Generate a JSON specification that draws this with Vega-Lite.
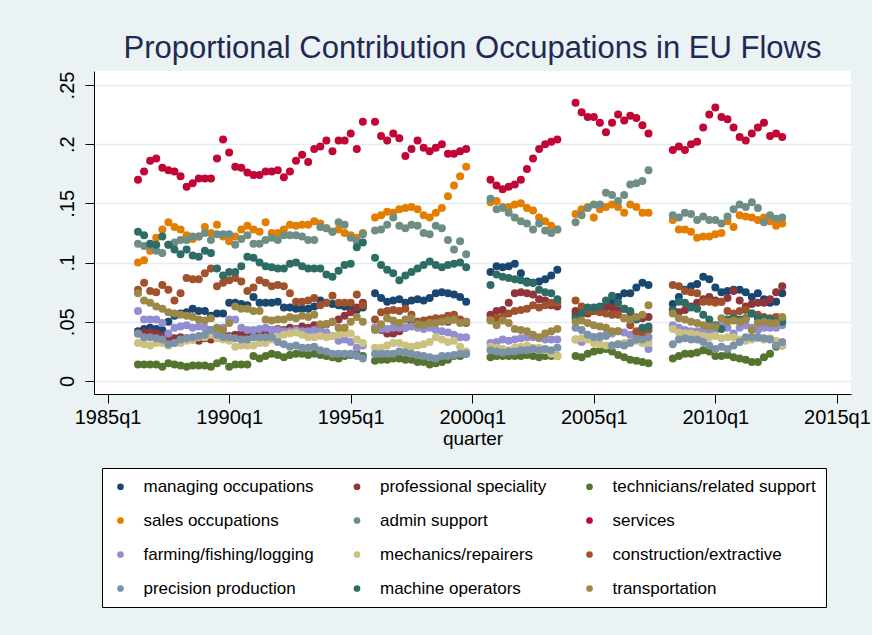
{
"$schema": "https://vega.github.io/schema/vega-lite/v6.json",
"width": 757, "height": 323,
"autosize": {"type": "none"},
"padding": {"left": 94, "top": 71, "right": 21, "bottom": 241},
"background": "#eaf2f3",
"title": {"text": "Proportional Contribution Occupations in EU Flows", "fontSize": 31, "font": "Liberation Sans", "fontWeight": "normal", "color": "#1e2a55", "anchor": "middle", "baseline": "alphabetic", "offset": 11, "dy": 29},
"config": {"view": {"fill": "white", "stroke": null}},
"data": {"values": [
{"q":1986.25,"s01":0.042,"s02":0.040,"s03":0.014,"s04":0.100,"s05":0.116,"s06":0.170,"s07":0.059,"s08":0.032,"s09":0.077,"s10":0.040,"s11":0.126,"s12":0.074},
{"q":1986.5,"s01":0.044,"s02":0.041,"s03":0.014,"s04":0.102,"s05":0.114,"s06":0.177,"s07":0.052,"s08":0.031,"s09":0.083,"s10":0.037,"s11":0.123,"s12":0.068},
{"q":1986.75,"s01":0.045,"s02":0.041,"s03":0.014,"s04":0.110,"s05":0.114,"s06":0.186,"s07":0.052,"s08":0.030,"s09":0.076,"s10":0.037,"s11":0.116,"s12":0.066},
{"q":1987,"s01":0.044,"s02":0.040,"s03":0.014,"s04":0.121,"s05":0.110,"s06":0.188,"s07":0.052,"s08":0.032,"s09":0.075,"s10":0.036,"s11":0.115,"s12":0.063},
{"q":1987.25,"s01":0.043,"s02":0.038,"s03":0.012,"s04":0.128,"s05":0.108,"s06":0.180,"s07":0.049,"s08":0.032,"s09":0.081,"s10":0.035,"s11":0.122,"s12":0.061},
{"q":1987.5,"s01":0.050,"s02":0.036,"s03":0.015,"s04":0.134,"s05":0.115,"s06":0.178,"s07":0.040,"s08":0.030,"s09":0.077,"s10":0.031,"s11":0.115,"s12":0.058},
{"q":1987.75,"s01":0.055,"s02":0.036,"s03":0.014,"s04":0.130,"s05":0.117,"s06":0.177,"s07":0.045,"s08":0.032,"s09":0.068,"s10":0.032,"s11":0.111,"s12":0.057},
{"q":1988,"s01":0.057,"s02":0.037,"s03":0.013,"s04":0.128,"s05":0.119,"s06":0.173,"s07":0.046,"s08":0.032,"s09":0.074,"s10":0.035,"s11":0.107,"s12":0.056},
{"q":1988.25,"s01":0.058,"s02":0.036,"s03":0.012,"s04":0.123,"s05":0.119,"s06":0.164,"s07":0.047,"s08":0.034,"s09":0.087,"s10":0.036,"s11":0.111,"s12":0.055},
{"q":1988.5,"s01":0.061,"s02":0.035,"s03":0.013,"s04":0.120,"s05":0.122,"s06":0.167,"s07":0.045,"s08":0.035,"s09":0.086,"s10":0.037,"s11":0.106,"s12":0.054},
{"q":1988.75,"s01":0.059,"s02":0.034,"s03":0.013,"s04":0.122,"s05":0.122,"s06":0.171,"s07":0.046,"s08":0.037,"s09":0.086,"s10":0.038,"s11":0.105,"s12":0.052},
{"q":1989,"s01":0.059,"s02":0.036,"s03":0.013,"s04":0.130,"s05":0.125,"s06":0.171,"s07":0.045,"s08":0.037,"s09":0.091,"s10":0.039,"s11":0.110,"s12":0.051},
{"q":1989.25,"s01":0.055,"s02":0.035,"s03":0.012,"s04":0.125,"s05":0.119,"s06":0.171,"s07":0.043,"s08":0.039,"s09":0.095,"s10":0.043,"s11":0.108,"s12":0.053},
{"q":1989.5,"s01":0.057,"s02":0.037,"s03":0.015,"s04":0.132,"s05":0.124,"s06":0.188,"s07":0.043,"s08":0.036,"s09":0.080,"s10":0.039,"s11":0.095,"s12":0.045},
{"q":1989.75,"s01":0.057,"s02":0.038,"s03":0.017,"s04":0.122,"s05":0.124,"s06":0.204,"s07":0.045,"s08":0.035,"s09":0.083,"s10":0.037,"s11":0.089,"s12":0.043},
{"q":1990,"s01":0.066,"s02":0.038,"s03":0.012,"s04":0.118,"s05":0.124,"s06":0.193,"s07":0.052,"s08":0.034,"s09":0.085,"s10":0.037,"s11":0.092,"s12":0.049},
{"q":1990.25,"s01":0.066,"s02":0.039,"s03":0.014,"s04":0.122,"s05":0.115,"s06":0.181,"s07":0.052,"s08":0.029,"s09":0.087,"s10":0.036,"s11":0.092,"s12":0.063},
{"q":1990.5,"s01":0.065,"s02":0.040,"s03":0.014,"s04":0.128,"s05":0.120,"s06":0.180,"s07":0.045,"s08":0.030,"s09":0.084,"s10":0.035,"s11":0.097,"s12":0.061},
{"q":1990.75,"s01":0.064,"s02":0.038,"s03":0.014,"s04":0.131,"s05":0.123,"s06":0.176,"s07":0.043,"s08":0.030,"s09":0.076,"s10":0.035,"s11":0.105,"s12":0.061},
{"q":1991,"s01":0.071,"s02":0.040,"s03":0.021,"s04":0.128,"s05":0.116,"s06":0.174,"s07":0.043,"s08":0.030,"s09":0.079,"s10":0.037,"s11":0.104,"s12":0.059},
{"q":1991.25,"s01":0.066,"s02":0.042,"s03":0.019,"s04":0.126,"s05":0.116,"s06":0.174,"s07":0.044,"s08":0.032,"s09":0.085,"s10":0.037,"s11":0.100,"s12":0.059},
{"q":1991.5,"s01":0.066,"s02":0.041,"s03":0.021,"s04":0.134,"s05":0.119,"s06":0.177,"s07":0.045,"s08":0.032,"s09":0.083,"s10":0.037,"s11":0.097,"s12":0.052},
{"q":1991.75,"s01":0.066,"s02":0.043,"s03":0.023,"s04":0.125,"s05":0.121,"s06":0.177,"s07":0.043,"s08":0.035,"s09":0.080,"s10":0.037,"s11":0.096,"s12":0.051},
{"q":1992,"s01":0.067,"s02":0.044,"s03":0.022,"s04":0.125,"s05":0.119,"s06":0.178,"s07":0.043,"s08":0.037,"s09":0.081,"s10":0.033,"s11":0.095,"s12":0.052},
{"q":1992.25,"s01":0.062,"s02":0.043,"s03":0.020,"s04":0.128,"s05":0.123,"s06":0.172,"s07":0.042,"s08":0.039,"s09":0.080,"s10":0.031,"s11":0.095,"s12":0.052},
{"q":1992.5,"s01":0.062,"s02":0.045,"s03":0.022,"s04":0.132,"s05":0.123,"s06":0.177,"s07":0.042,"s08":0.040,"s09":0.074,"s10":0.029,"s11":0.099,"s12":0.054},
{"q":1992.75,"s01":0.061,"s02":0.044,"s03":0.023,"s04":0.131,"s05":0.123,"s06":0.186,"s07":0.043,"s08":0.041,"s09":0.067,"s10":0.030,"s11":0.100,"s12":0.053},
{"q":1993,"s01":0.061,"s02":0.046,"s03":0.023,"s04":0.132,"s05":0.122,"s06":0.191,"s07":0.042,"s08":0.039,"s09":0.067,"s10":0.028,"s11":0.097,"s12":0.055},
{"q":1993.25,"s01":0.061,"s02":0.045,"s03":0.022,"s04":0.132,"s05":0.119,"s06":0.185,"s07":0.042,"s08":0.037,"s09":0.068,"s10":0.028,"s11":0.095,"s12":0.054},
{"q":1993.5,"s01":0.063,"s02":0.047,"s03":0.023,"s04":0.135,"s05":0.119,"s06":0.196,"s07":0.043,"s08":0.037,"s09":0.070,"s10":0.029,"s11":0.095,"s12":0.056},
{"q":1993.75,"s01":0.068,"s02":0.046,"s03":0.022,"s04":0.133,"s05":0.130,"s06":0.198,"s07":0.042,"s08":0.038,"s09":0.064,"s10":0.026,"s11":0.095,"s12":0.048},
{"q":1994,"s01":0.066,"s02":0.048,"s03":0.021,"s04":0.129,"s05":0.129,"s06":0.203,"s07":0.041,"s08":0.037,"s09":0.066,"s10":0.025,"s11":0.090,"s12":0.048},
{"q":1994.25,"s01":0.065,"s02":0.050,"s03":0.020,"s04":0.126,"s05":0.126,"s06":0.194,"s07":0.038,"s08":0.038,"s09":0.072,"s10":0.023,"s11":0.088,"s12":0.050},
{"q":1994.5,"s01":0.064,"s02":0.052,"s03":0.019,"s04":0.128,"s05":0.134,"s06":0.203,"s07":0.034,"s08":0.039,"s09":0.066,"s10":0.023,"s11":0.093,"s12":0.045},
{"q":1994.75,"s01":0.063,"s02":0.055,"s03":0.021,"s04":0.125,"s05":0.132,"s06":0.203,"s07":0.035,"s08":0.040,"s09":0.066,"s10":0.023,"s11":0.098,"s12":0.045},
{"q":1995,"s01":0.061,"s02":0.058,"s03":0.022,"s04":0.123,"s05":0.121,"s06":0.209,"s07":0.033,"s08":0.040,"s09":0.066,"s10":0.023,"s11":0.099,"s12":0.050},
{"q":1995.25,"s01":0.060,"s02":0.062,"s03":0.023,"s04":0.121,"s05":0.118,"s06":0.196,"s07":0.028,"s08":0.035,"s09":0.073,"s10":0.021,"s11":0.113,"s12":0.054},
{"q":1995.5,"s01":0.062,"s02":0.066,"s03":0.021,"s04":0.125,"s05":0.124,"s06":0.219,"s07":0.030,"s08":0.032,"s09":0.064,"s10":0.019,"s11":0.117,"s12":0.050},
{"q":1996,"s01":0.074,"s02":0.045,"s03":0.017,"s04":0.138,"s05":0.127,"s06":0.219,"s07":0.045,"s08":0.028,"s09":0.052,"s10":0.023,"s11":0.104,"s12":0.043},
{"q":1996.25,"s01":0.070,"s02":0.043,"s03":0.018,"s04":0.140,"s05":0.128,"s06":0.207,"s07":0.044,"s08":0.028,"s09":0.058,"s10":0.023,"s11":0.098,"s12":0.048},
{"q":1996.5,"s01":0.067,"s02":0.040,"s03":0.018,"s04":0.143,"s05":0.132,"s06":0.203,"s07":0.044,"s08":0.030,"s09":0.059,"s10":0.023,"s11":0.094,"s12":0.053},
{"q":1996.75,"s01":0.068,"s02":0.040,"s03":0.019,"s04":0.142,"s05":0.138,"s06":0.209,"s07":0.045,"s08":0.032,"s09":0.060,"s10":0.023,"s11":0.091,"s12":0.051},
{"q":1997,"s01":0.069,"s02":0.042,"s03":0.019,"s04":0.145,"s05":0.131,"s06":0.205,"s07":0.045,"s08":0.032,"s09":0.059,"s10":0.025,"s11":0.085,"s12":0.049},
{"q":1997.25,"s01":0.066,"s02":0.045,"s03":0.018,"s04":0.146,"s05":0.129,"s06":0.190,"s07":0.045,"s08":0.030,"s09":0.061,"s10":0.024,"s11":0.089,"s12":0.052},
{"q":1997.5,"s01":0.068,"s02":0.048,"s03":0.018,"s04":0.147,"s05":0.132,"s06":0.196,"s07":0.046,"s08":0.029,"s09":0.056,"s10":0.023,"s11":0.092,"s12":0.053},
{"q":1997.75,"s01":0.069,"s02":0.050,"s03":0.016,"s04":0.145,"s05":0.131,"s06":0.203,"s07":0.045,"s08":0.030,"s09":0.050,"s10":0.022,"s11":0.095,"s12":0.048},
{"q":1998,"s01":0.068,"s02":0.049,"s03":0.016,"s04":0.140,"s05":0.125,"s06":0.197,"s07":0.044,"s08":0.031,"s09":0.051,"s10":0.021,"s11":0.098,"s12":0.047},
{"q":1998.25,"s01":0.070,"s02":0.050,"s03":0.014,"s04":0.138,"s05":0.124,"s06":0.194,"s07":0.045,"s08":0.033,"s09":0.052,"s10":0.020,"s11":0.101,"s12":0.049},
{"q":1998.5,"s01":0.074,"s02":0.052,"s03":0.015,"s04":0.142,"s05":0.131,"s06":0.197,"s07":0.043,"s08":0.037,"s09":0.053,"s10":0.019,"s11":0.098,"s12":0.049},
{"q":1998.75,"s01":0.075,"s02":0.051,"s03":0.016,"s04":0.146,"s05":0.129,"s06":0.200,"s07":0.042,"s08":0.035,"s09":0.053,"s10":0.021,"s11":0.096,"s12":0.050},
{"q":1999,"s01":0.074,"s02":0.050,"s03":0.018,"s04":0.156,"s05":0.119,"s06":0.192,"s07":0.041,"s08":0.033,"s09":0.055,"s10":0.021,"s11":0.098,"s12":0.051},
{"q":1999.25,"s01":0.073,"s02":0.052,"s03":0.021,"s04":0.165,"s05":0.111,"s06":0.192,"s07":0.039,"s08":0.034,"s09":0.056,"s10":0.022,"s11":0.099,"s12":0.052},
{"q":1999.5,"s01":0.071,"s02":0.051,"s03":0.021,"s04":0.173,"s05":0.118,"s06":0.194,"s07":0.037,"s08":0.029,"s09":0.052,"s10":0.023,"s11":0.100,"s12":0.049},
{"q":1999.75,"s01":0.067,"s02":0.050,"s03":0.023,"s04":0.181,"s05":0.107,"s06":0.196,"s07":0.037,"s08":0.025,"s09":0.049,"s10":0.023,"s11":0.096,"s12":0.050},
{"q":2000.75,"s01":0.092,"s02":0.056,"s03":0.020,"s04":0.151,"s05":0.154,"s06":0.170,"s07":0.032,"s08":0.029,"s09":0.052,"s10":0.026,"s11":0.081,"s12":0.051},
{"q":2001,"s01":0.097,"s02":0.059,"s03":0.021,"s04":0.152,"s05":0.145,"s06":0.165,"s07":0.033,"s08":0.028,"s09":0.053,"s10":0.025,"s11":0.090,"s12":0.047},
{"q":2001.25,"s01":0.096,"s02":0.060,"s03":0.021,"s04":0.147,"s05":0.146,"s06":0.162,"s07":0.035,"s08":0.027,"s09":0.054,"s10":0.024,"s11":0.088,"s12":0.051},
{"q":2001.5,"s01":0.097,"s02":0.066,"s03":0.021,"s04":0.147,"s05":0.142,"s06":0.164,"s07":0.034,"s08":0.026,"s09":0.057,"s10":0.025,"s11":0.087,"s12":0.049},
{"q":2001.75,"s01":0.099,"s02":0.074,"s03":0.021,"s04":0.149,"s05":0.138,"s06":0.166,"s07":0.035,"s08":0.028,"s09":0.059,"s10":0.025,"s11":0.086,"s12":0.044},
{"q":2002,"s01":0.091,"s02":0.075,"s03":0.021,"s04":0.150,"s05":0.135,"s06":0.170,"s07":0.036,"s08":0.029,"s09":0.060,"s10":0.026,"s11":0.085,"s12":0.043},
{"q":2002.25,"s01":0.084,"s02":0.074,"s03":0.022,"s04":0.146,"s05":0.133,"s06":0.179,"s07":0.037,"s08":0.030,"s09":0.061,"s10":0.026,"s11":0.083,"s12":0.042},
{"q":2002.5,"s01":0.083,"s02":0.073,"s03":0.021,"s04":0.144,"s05":0.128,"s06":0.188,"s07":0.037,"s08":0.028,"s09":0.064,"s10":0.027,"s11":0.083,"s12":0.039},
{"q":2002.75,"s01":0.084,"s02":0.069,"s03":0.020,"s04":0.138,"s05":0.133,"s06":0.196,"s07":0.036,"s08":0.028,"s09":0.062,"s10":0.026,"s11":0.077,"s12":0.037},
{"q":2003,"s01":0.086,"s02":0.068,"s03":0.021,"s04":0.135,"s05":0.127,"s06":0.200,"s07":0.035,"s08":0.026,"s09":0.064,"s10":0.027,"s11":0.075,"s12":0.040},
{"q":2003.25,"s01":0.089,"s02":0.064,"s03":0.021,"s04":0.131,"s05":0.125,"s06":0.202,"s07":0.035,"s08":0.023,"s09":0.066,"s10":0.026,"s11":0.074,"s12":0.042},
{"q":2003.5,"s01":0.094,"s02":0.063,"s03":0.021,"s04":0.128,"s05":0.128,"s06":0.204,"s07":0.035,"s08":0.021,"s09":0.066,"s10":0.028,"s11":0.069,"s12":0.044},
{"q":2004.25,"s01":0.056,"s02":0.059,"s03":0.021,"s04":0.141,"s05":0.134,"s06":0.235,"s07":0.035,"s08":0.035,"s09":0.068,"s10":0.045,"s11":0.053,"s12":0.050},
{"q":2004.5,"s01":0.057,"s02":0.060,"s03":0.020,"s04":0.145,"s05":0.140,"s06":0.227,"s07":0.033,"s08":0.036,"s09":0.063,"s10":0.043,"s11":0.057,"s12":0.051},
{"q":2004.75,"s01":0.058,"s02":0.057,"s03":0.023,"s04":0.147,"s05":0.146,"s06":0.223,"s07":0.036,"s08":0.035,"s09":0.059,"s10":0.039,"s11":0.062,"s12":0.049},
{"q":2005,"s01":0.059,"s02":0.059,"s03":0.025,"s04":0.138,"s05":0.149,"s06":0.223,"s07":0.037,"s08":0.032,"s09":0.059,"s10":0.037,"s11":0.062,"s12":0.047},
{"q":2005.25,"s01":0.061,"s02":0.060,"s03":0.026,"s04":0.145,"s05":0.149,"s06":0.218,"s07":0.038,"s08":0.031,"s09":0.058,"s10":0.037,"s11":0.063,"s12":0.046},
{"q":2005.5,"s01":0.063,"s02":0.064,"s03":0.027,"s04":0.147,"s05":0.159,"s06":0.210,"s07":0.039,"s08":0.030,"s09":0.057,"s10":0.038,"s11":0.068,"s12":0.045},
{"q":2005.75,"s01":0.066,"s02":0.062,"s03":0.025,"s04":0.149,"s05":0.157,"s06":0.218,"s07":0.040,"s08":0.030,"s09":0.056,"s10":0.030,"s11":0.072,"s12":0.042},
{"q":2006,"s01":0.071,"s02":0.060,"s03":0.022,"s04":0.147,"s05":0.152,"s06":0.225,"s07":0.042,"s08":0.031,"s09":0.056,"s10":0.031,"s11":0.066,"s12":0.042},
{"q":2006.25,"s01":0.074,"s02":0.061,"s03":0.020,"s04":0.142,"s05":0.157,"s06":0.220,"s07":0.041,"s08":0.032,"s09":0.053,"s10":0.030,"s11":0.061,"s12":0.053},
{"q":2006.5,"s01":0.074,"s02":0.058,"s03":0.018,"s04":0.149,"s05":0.166,"s06":0.224,"s07":0.039,"s08":0.033,"s09":0.047,"s10":0.032,"s11":0.059,"s12":0.052},
{"q":2006.75,"s01":0.079,"s02":0.053,"s03":0.017,"s04":0.147,"s05":0.167,"s06":0.222,"s07":0.038,"s08":0.034,"s09":0.042,"s10":0.035,"s11":0.052,"s12":0.054},
{"q":2007,"s01":0.083,"s02":0.053,"s03":0.016,"s04":0.142,"s05":0.169,"s06":0.216,"s07":0.035,"s08":0.032,"s09":0.040,"s10":0.035,"s11":0.045,"s12":0.056},
{"q":2007.25,"s01":0.081,"s02":0.054,"s03":0.015,"s04":0.142,"s05":0.178,"s06":0.209,"s07":0.027,"s08":0.032,"s09":0.043,"s10":0.037,"s11":0.046,"s12":0.064},
{"q":2008.25,"s01":0.065,"s02":0.060,"s03":0.019,"s04":0.136,"s05":0.140,"s06":0.195,"s07":0.047,"s08":0.044,"s09":0.081,"s10":0.031,"s11":0.060,"s12":0.057},
{"q":2008.5,"s01":0.071,"s02":0.058,"s03":0.021,"s04":0.128,"s05":0.138,"s06":0.198,"s07":0.045,"s08":0.041,"s09":0.080,"s10":0.035,"s11":0.067,"s12":0.053},
{"q":2008.75,"s01":0.077,"s02":0.060,"s03":0.023,"s04":0.128,"s05":0.142,"s06":0.195,"s07":0.043,"s08":0.040,"s09":0.076,"s10":0.036,"s11":0.066,"s12":0.052},
{"q":2009,"s01":0.080,"s02":0.063,"s03":0.023,"s04":0.126,"s05":0.141,"s06":0.200,"s07":0.042,"s08":0.040,"s09":0.075,"s10":0.035,"s11":0.062,"s12":0.050},
{"q":2009.25,"s01":0.082,"s02":0.066,"s03":0.024,"s04":0.121,"s05":0.136,"s06":0.202,"s07":0.042,"s08":0.039,"s09":0.074,"s10":0.035,"s11":0.061,"s12":0.049},
{"q":2009.5,"s01":0.088,"s02":0.069,"s03":0.026,"s04":0.122,"s05":0.139,"s06":0.214,"s07":0.042,"s08":0.038,"s09":0.067,"s10":0.033,"s11":0.056,"s12":0.047},
{"q":2009.75,"s01":0.086,"s02":0.071,"s03":0.025,"s04":0.122,"s05":0.136,"s06":0.225,"s07":0.043,"s08":0.037,"s09":0.067,"s10":0.030,"s11":0.052,"s12":0.046},
{"q":2010,"s01":0.079,"s02":0.068,"s03":0.021,"s04":0.124,"s05":0.136,"s06":0.231,"s07":0.043,"s08":0.038,"s09":0.066,"s10":0.027,"s11":0.047,"s12":0.046},
{"q":2010.25,"s01":0.075,"s02":0.067,"s03":0.021,"s04":0.125,"s05":0.133,"s06":0.223,"s07":0.049,"s08":0.036,"s09":0.067,"s10":0.029,"s11":0.044,"s12":0.053},
{"q":2010.5,"s01":0.076,"s02":0.070,"s03":0.022,"s04":0.135,"s05":0.139,"s06":0.221,"s07":0.045,"s08":0.037,"s09":0.059,"s10":0.027,"s11":0.052,"s12":0.050},
{"q":2010.75,"s01":0.077,"s02":0.076,"s03":0.020,"s04":0.130,"s05":0.145,"s06":0.214,"s07":0.040,"s08":0.037,"s09":0.057,"s10":0.030,"s11":0.053,"s12":0.051},
{"q":2011,"s01":0.077,"s02":0.068,"s03":0.019,"s04":0.140,"s05":0.149,"s06":0.206,"s07":0.045,"s08":0.035,"s09":0.059,"s10":0.033,"s11":0.052,"s12":0.050},
{"q":2011.25,"s01":0.075,"s02":0.063,"s03":0.018,"s04":0.139,"s05":0.147,"s06":0.203,"s07":0.047,"s08":0.034,"s09":0.060,"s10":0.037,"s11":0.053,"s12":0.052},
{"q":2011.5,"s01":0.071,"s02":0.065,"s03":0.016,"s04":0.138,"s05":0.151,"s06":0.209,"s07":0.045,"s08":0.035,"s09":0.057,"s10":0.037,"s11":0.057,"s12":0.043},
{"q":2011.75,"s01":0.074,"s02":0.066,"s03":0.016,"s04":0.136,"s05":0.146,"s06":0.214,"s07":0.043,"s08":0.036,"s09":0.056,"s10":0.037,"s11":0.053,"s12":0.049},
{"q":2012,"s01":0.069,"s02":0.066,"s03":0.020,"s04":0.138,"s05":0.134,"s06":0.218,"s07":0.045,"s08":0.035,"s09":0.054,"s10":0.036,"s11":0.053,"s12":0.050},
{"q":2012.25,"s01":0.066,"s02":0.069,"s03":0.023,"s04":0.135,"s05":0.140,"s06":0.207,"s07":0.045,"s08":0.036,"s09":0.053,"s10":0.035,"s11":0.052,"s12":0.049},
{"q":2012.5,"s01":0.067,"s02":0.075,"s03":0.029,"s04":0.131,"s05":0.137,"s06":0.209,"s07":0.045,"s08":0.034,"s09":0.054,"s10":0.030,"s11":0.050,"s12":0.049},
{"q":2012.75,"s01":0.074,"s02":0.080,"s03":0.030,"s04":0.133,"s05":0.138,"s06":0.206,"s07":0.047,"s08":0.030,"s09":0.053,"s10":0.033,"s11":0.050,"s12":0.054}
]},
"transform": [{"fold": ["s01","s02","s03","s04","s05","s06","s07","s08","s09","s10","s11","s12"], "as": ["series", "value"]}],
"mark": {"type": "point", "filled": true, "size": 64, "opacity": 1, "strokeWidth": 0},
"encoding": {
  "x": {"field": "q", "type": "quantitative",
    "scale": {"domain": [1984.44, 2015.58], "nice": false, "zero": false},
    "axis": {"values": [1985,1990,1995,2000,2005,2010,2015], "labelExpr": "floor(datum.value) + 'q1'", "title": "quarter", "grid": false,
      "domainColor": "black", "domainWidth": 1, "tickColor": "black", "tickWidth": 1, "tickSize": 9,
      "labelFont": "Liberation Sans", "labelFontSize": 20, "labelColor": "black", "labelPadding": 4, "labelFlush": false, "labelOverlap": false, "labelBaseline": "top",
      "titleFont": "Liberation Sans", "titleFontSize": 19, "titleFontWeight": "normal", "titleColor": "black", "titleY": 50, "titleBaseline": "alphabetic"}},
  "y": {"field": "value", "type": "quantitative",
    "scale": {"domain": [-0.011, 0.2618], "nice": false, "zero": false},
    "axis": {"values": [0,0.05,0.1,0.15,0.2,0.25], "labelExpr": "datum.value == 0 ? '0' : slice(format(datum.value, '.2~f'), 1)", "title": null,
      "grid": true, "gridColor": "#e4edf0", "gridWidth": 1.5,
      "domainColor": "black", "domainWidth": 1, "tickColor": "black", "tickWidth": 1, "tickSize": 9,
      "labelFont": "Liberation Sans", "labelFontSize": 20, "labelColor": "black", "labelAngle": 270, "labelAlign": "center", "labelBaseline": "alphabetic", "labelPadding": 12, "labelFlush": false, "labelOverlap": false}},
  "color": {"field": "series", "type": "nominal",
    "scale": {"domain": ["s01","s02","s03","s04","s05","s06","s07","s08","s09","s10","s11","s12"],
      "range": ["#1a476f","#90353b","#55752f","#e37e00","#6e8e84","#c10534","#938dd2","#cac27e","#a0522d","#7b92a8","#2d6d66","#9c8847"]},
    "legend": {"orient": "none", "legendX": 8, "legendY": 397, "columns": 3, "title": null, "direction": "horizontal",
      "labelExpr": "datum.label == 's01' ? 'managing occupations' : datum.label == 's02' ? 'professional speciality' : datum.label == 's03' ? 'technicians/related support' : datum.label == 's04' ? 'sales occupations' : datum.label == 's05' ? 'admin support' : datum.label == 's06' ? 'services' : datum.label == 's07' ? 'farming/fishing/logging' : datum.label == 's08' ? 'mechanics/repairers' : datum.label == 's09' ? 'construction/extractive' : datum.label == 's10' ? 'precision production' : datum.label == 's11' ? 'machine operators' : 'transportation'",
      "symbolType": "circle", "symbolSize": 45, "symbolStrokeWidth": 0, "symbolOpacity": 1,
      "fillColor": "white", "strokeColor": "black", "padding": 10, "cornerRadius": 0,
      "columnPadding": 34.5, "rowPadding": 16, "labelOffset": 14.5,
      "labelFont": "Liberation Sans", "labelFontSize": 17, "labelColor": "black", "labelLimit": 300}},
  "order": {"field": "series", "sort": "ascending"}
}
}
